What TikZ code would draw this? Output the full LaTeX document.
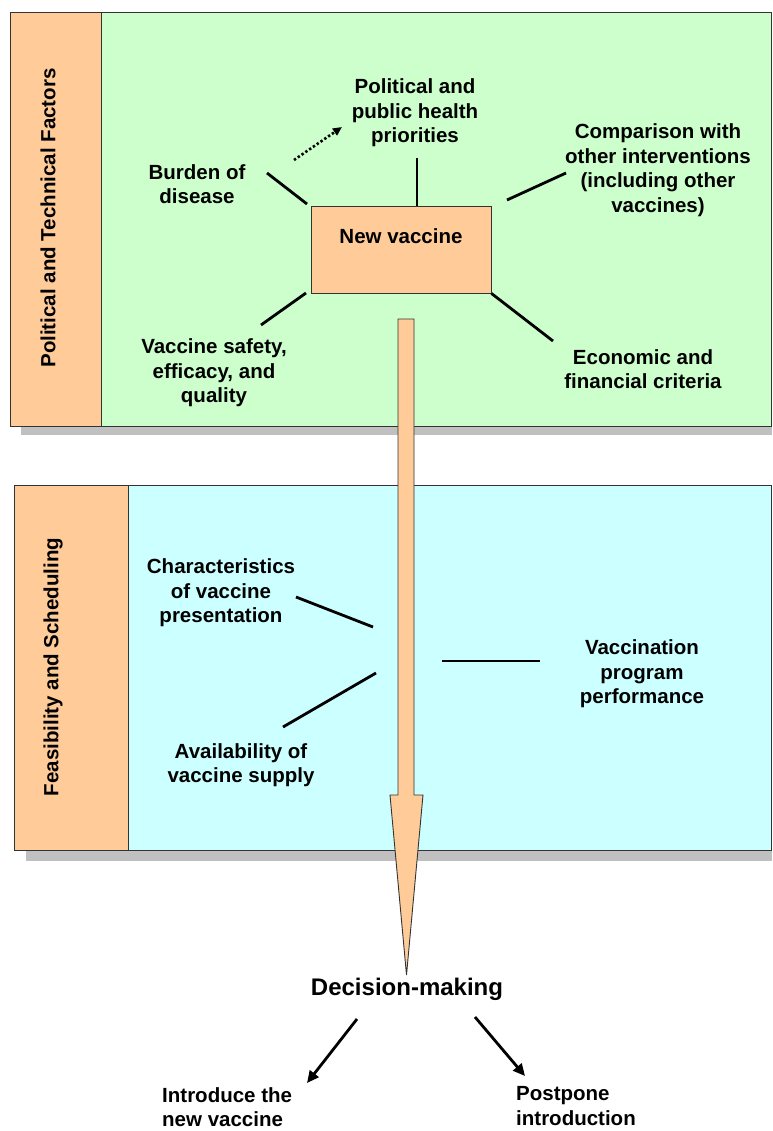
\documentclass[tikz,border=0pt]{standalone}
\usepackage{fontspec}
\setmainfont{Liberation Sans}
\usetikzlibrary{arrows.meta}
\definecolor{panelgreen}{HTML}{CCFFCC}
\definecolor{panelcyan}{HTML}{CCFFFF}
\definecolor{vorange}{HTML}{FFCC99}
\definecolor{shadowgray}{HTML}{C0C0C0}
\definecolor{edgegray}{HTML}{333333}
\begin{document}
\begin{tikzpicture}[x=1pt,y=-1pt,
  lbl/.style={font=\bfseries\fontsize{20.5}{24.5}\selectfont, align=center, inner sep=0pt},
  sidelbl/.style={font=\bfseries\fontsize{20.5}{24.5}\selectfont, inner sep=0pt, rotate=90},
  panel/.style={draw=edgegray, line width=0.9pt},
  link/.style={line width=2.8pt, black},
  dotlink/.style={line width=2.6pt, black, dash pattern=on 2.4pt off 2.2pt, -{Triangle[length=9pt,width=8pt]}},
  decarrow/.style={line width=2.8pt, black, -{Triangle[length=12pt,width=11pt]}},
  vbox/.style={draw=edgegray, line width=0.9pt, fill=vorange, minimum width=180pt, minimum height=87pt, inner sep=0pt, font=\bfseries\fontsize{20.5}{24.5}\selectfont, text depth=27pt}
]
\useasboundingbox (0,0) rectangle (772,1131);
\fill[white] (0,0) rectangle (772,1131);

% ---- top panel
\fill[shadowgray] (21,22) rectangle (772,435);
\draw[panel, fill=panelgreen] (10,12) rectangle (771.5,426);
\draw[panel, fill=vorange] (10,12) rectangle (101,426);
\node[sidelbl] (ptf) at (48,218) {Political and Technical Factors};

% ---- lower panel
\fill[shadowgray] (26,496) rectangle (772,861);
\draw[panel, fill=panelcyan] (14,485) rectangle (771.5,850);
\draw[panel, fill=vorange] (14,485) rectangle (128,850);
\node[sidelbl] (fs) at (53,667) {Feasibility and Scheduling};

% ---- central box
\node[vbox] (nv) at (401,249.5) {New vaccine};

% ---- labels (top)
\node[lbl] (pol) at (415,113) {Political and\\public health\\priorities};
\node[lbl] (bur) at (197,184) {Burden of\\disease};
\node[lbl] (cmp) at (658,170) {Comparison with\\other interventions\\(including other\\vaccines)};
\node[lbl] (saf) at (214,373) {Vaccine safety,\\efficacy, and\\quality};
\node[lbl] (eco) at (643,369) {Economic and\\financial criteria};

% ---- labels (lower)
\node[lbl] (chr) at (221,593) {Characteristics\\of vaccine\\presentation};
\node[lbl] (ava) at (241,765) {Availability of\\vaccine supply};
\node[lbl] (vpp) at (642,674) {Vaccination\\program\\performance};

% ---- connector end points
\coordinate (burA) at (267,173);
\coordinate (burB) at (307,204);
\coordinate (dotA) at (294,160);
\coordinate (dotB) at (342,127);
\coordinate (polA) at (417,158);
\coordinate (cmpA) at (507,200);
\coordinate (cmpB) at (566,173);
\coordinate (ecoB) at (553,341);
\coordinate (safA) at (306,293);
\coordinate (safB) at (261,325);
\coordinate (chrA) at (296,597);
\coordinate (chrB) at (373,627);
\coordinate (avaA) at (376,673);
\coordinate (avaB) at (283,727);
\coordinate (vppA) at (442,661);
\coordinate (vppB) at (540,661);

\draw[link] (burA) -- (burB);
\draw[dotlink] (dotA) -- (dotB);
\draw[link] (polA) -- (polA |- nv.north);
\draw[link] (cmpA) -- (cmpB);
\draw[link] (nv.south east) -- (ecoB);
\draw[link] (safA) -- (safB);
\draw[link] (chrA) -- (chrB);
\draw[link] (avaA) -- (avaB);
\draw[link] (vppA) -- (vppB);

% ---- big arrow
\draw[draw=edgegray, line width=0.9pt, fill=vorange, line join=miter]
  (398,319) -- (414,319) -- (414,795) -- (423,795) -- (406.5,975) -- (390,795) -- (398,795) -- cycle;

% ---- decision
\node[font=\bfseries\fontsize{24}{28}\selectfont, inner sep=0pt] (dec) at (407,989) {Decision-making};
\node[lbl, align=left, anchor=west] (intro) at (162,1107) {Introduce the\\new vaccine};
\node[lbl, align=left, anchor=west] (post) at (516,1106) {Postpone\\introduction};
\coordinate (decL) at (357,1019);
\coordinate (decR) at (475,1017);
\draw[decarrow] (decL) -- (307,1083);
\draw[decarrow] (decR) -- (525,1076);
\end{tikzpicture}
\end{document}
